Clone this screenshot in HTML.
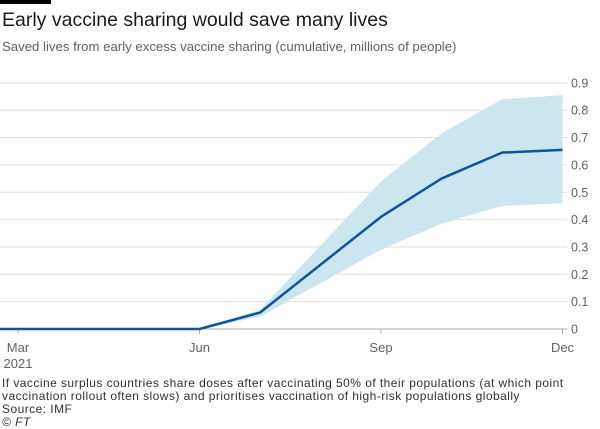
<!DOCTYPE html>
<html><head><meta charset="utf-8"><style>
body{margin:0;width:600px;height:428px;background:#fff;font-family:"Liberation Sans",sans-serif;position:relative;overflow:hidden;color:#33302e}
.abs{position:absolute}
</style></head><body>
<div class="abs" style="left:0;top:0;width:51px;height:4px;background:#000"></div>
<div class="abs" style="left:2px;top:9px;font-size:19.5px;color:#1a1a1a;white-space:nowrap">Early vaccine sharing would save many lives</div>
<div class="abs" style="left:2px;top:39px;font-size:13.2px;color:#66605c;white-space:nowrap">Saved lives from early excess vaccine sharing (cumulative, millions of people)</div>
<svg class="abs" style="left:0;top:0" width="600" height="428" id="chart"></svg>
<div class="abs" style="left:2px;top:377px;font-size:12px;letter-spacing:0.45px;line-height:13px;color:#33302e;white-space:nowrap">If vaccine surplus countries share doses after vaccinating 50% of their populations (at which point<br>vaccination rollout often slows) and prioritises vaccination of high-risk populations globally<br>Source: IMF<br><i>© FT</i></div>
<script>
const months=[0,1,2,3,4,5,6,7,8,9];
const central=[0,0,0,0,0.06,null,0.41,0.55,0.645,0.655];
const bandMonths=[3,4,6,7,8,9];
const upper=[0,0.07,0.54,0.715,0.84,0.855];
const lower=[0,0.045,0.29,0.385,0.45,0.46];
const yTicks=[0,0.1,0.2,0.3,0.4,0.5,0.6,0.7,0.8,0.9];
const yTickLabels=["0","0.1","0.2","0.3","0.4","0.5","0.6","0.7","0.8","0.9"];
const xTickMonths=[0,3,6,9];
const xTickLabels=["Mar","Jun","Sep","Dec"];

const NS="http://www.w3.org/2000/svg";
const svg=document.getElementById('chart');
const x=m=>18+m*60.5;
const y=v=>329-v*273.5;
function mk(t,a){const e=document.createElementNS(NS,t);for(const k in a)e.setAttribute(k,a[k]);svg.appendChild(e);return e;}
yTicks.forEach((v,i)=>{
  const g=mk('line',{x1:0,x2:567,y1:y(v),y2:y(v),stroke:v===0?'#b3aca6':'#e6ddd5','stroke-width':1});
  
  
  const t=mk('text',{x:571,y:y(v)+4.5,'font-size':12.5,fill:'#66605c','font-family':'Liberation Sans, sans-serif'});
  t.textContent=yTickLabels[i];
  
  
});
xTickMonths.forEach((m,i)=>{
  const l=mk('line',{x1:x(m),x2:x(m),y1:329,y2:334,stroke:'#b3aca6'});
  
  
  const t=mk('text',{x:x(m),y:352,'font-size':13,fill:'#66605c','text-anchor':'middle','font-family':'Liberation Sans, sans-serif'});
  t.textContent=xTickLabels[i];
  
  
});
const yr=mk('text',{x:x(0),y:368,'font-size':13,fill:'#66605c','text-anchor':'middle','font-family':'Liberation Sans, sans-serif'});
yr.textContent='2021';


let d='';
bandMonths.forEach((m,i)=>{d+=(i?'L':'M')+x(m)+','+y(upper[i]);});
for(let i=bandMonths.length-1;i>=0;i--)d+='L'+x(bandMonths[i])+','+y(lower[i]);
const band=mk('path',{d:d+'Z',fill:'#cce6f0'});


let ld='M0,'+y(0);
months.forEach((m,i)=>{if(central[i]!==null)ld+='L'+x(m)+','+y(central[i]);});
const line=mk('path',{d:ld,fill:'none',stroke:'#0f5499','stroke-width':2.5,'stroke-linejoin':'round'});


</script>
</body></html>
